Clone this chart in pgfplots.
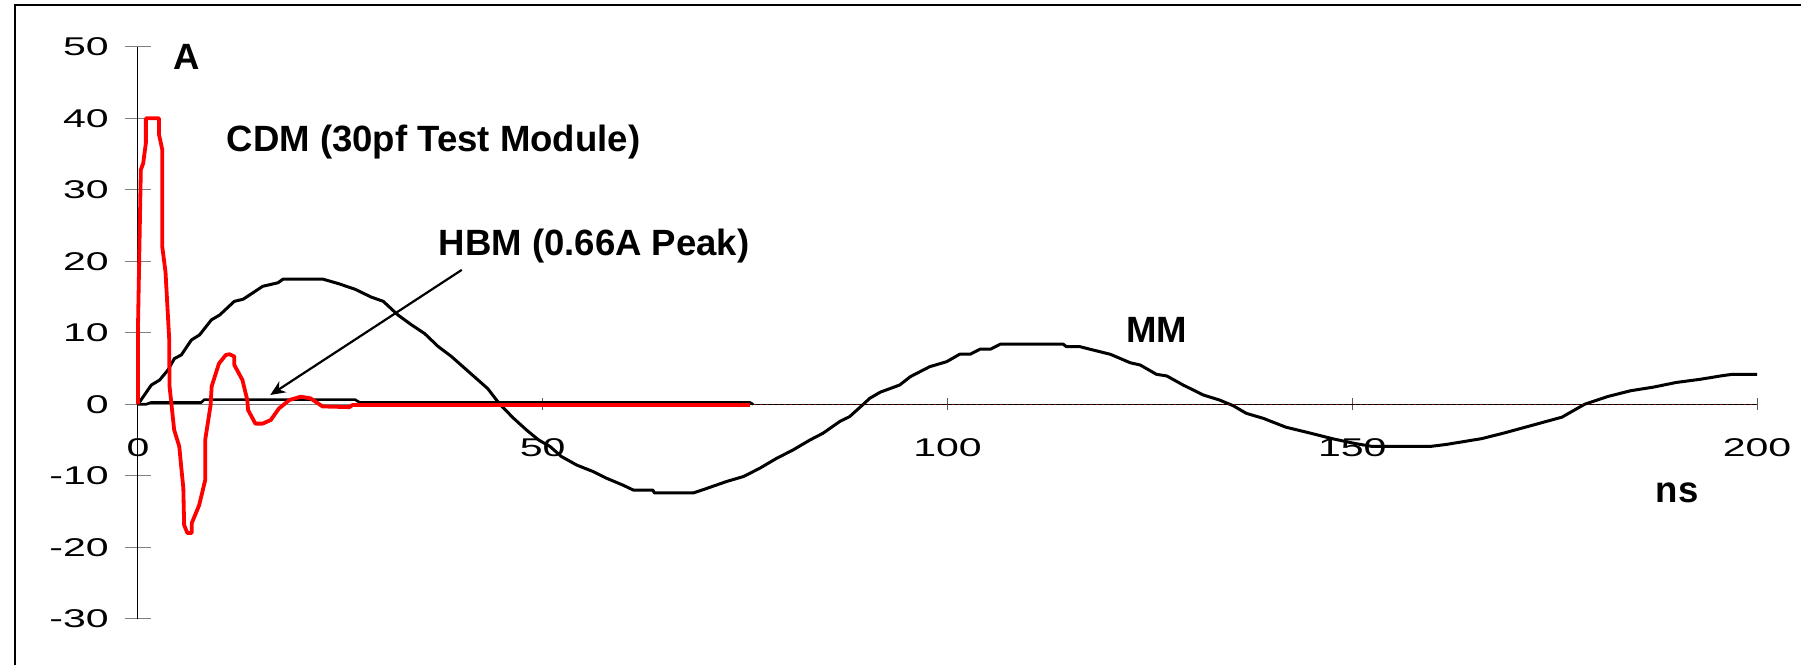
\documentclass[border=0pt]{standalone}
\usepackage{fontspec}
\usepackage{pgfplots}
\usepackage{pgfplotstable}
\pgfplotsset{compat=1.18}
\usetikzlibrary{arrows.meta}
\setmainfont{Liberation Sans}
\newfontfamily\tickfont[FakeStretch=1.6]{Liberation Sans}
\newcommand\lab{\fontsize{10.4}{12}\selectfont\bfseries}

\pgfplotstableread{
x y
0 0
1.65 2.7
2.68 3.4
3.7 4.8
4.5 6.4
5.35 6.9
6.6 9.0
7.6 9.7
9.06 11.8
10.1 12.5
11.9 14.4
13.0 14.7
15.4 16.5
17.3 17.0
17.9 17.5
22.85 17.5
24.7 16.9
26.8 16.1
28.8 15.0
30.3 14.4
32.1 12.5
33.8 11.1
35.4 9.9
37.1 8.06
38.7 6.7
40.8 4.6
42.0 3.4
43.2 2.2
44.7 0
46.4 -1.96
48.0 -3.6
49.5 -5.0
50.9 -5.9
52.3 -7.3
54.2 -8.5
56.2 -9.4
57.9 -10.35
59.9 -11.3
61.2 -12.0
63.6 -12.0
63.8 -12.4
68.6 -12.4
70.3 -11.75
72.7 -10.8
74.8 -10.1
76.8 -8.95
78.9 -7.55
80.9 -6.4
83.0 -5.0
84.6 -4.06
86.7 -2.4
87.9 -1.73
89.6 0
90.4 0.84
91.7 1.7
94.1 2.7
95.4 3.86
97.8 5.26
99.9 5.96
101.5 7.0
102.8 7.0
104.0 7.7
105.3 7.7
106.5 8.4
114.3 8.4
114.7 8.05
116.4 8.05
117.6 7.7
120.1 7.0
122.6 5.8
123.8 5.5
125.8 4.2
127.1 3.96
129.1 2.7
131.6 1.3
133.6 0.6
135.3 -0.2
136.9 -1.26
139.0 -1.96
141.8 -3.2
144.7 -4.0
147.5 -4.8
150.4 -5.5
152.5 -5.9
159.6 -5.9
161.7 -5.6
166.0 -4.8
168.8 -4.0
173.0 -2.7
175.9 -1.8
178.7 0
181.6 1.1
184.4 1.9
187.2 2.4
190.0 3.05
193.0 3.5
195.7 4.0
197.0 4.2
200.0 4.2
}\mmdata

\pgfplotstableread{
x y
0 0
0.0 10.9
0.35 32.8
0.64 33.7
0.97 36.5
0.97 40
2.6 40
2.6 37.7
3.0 35.6
3.0 22
3.4 18.5
3.85 9.2
3.9 2.5
4.47 -3.6
5.1 -5.9
5.3 -8.3
5.6 -11.7
5.7 -16.9
6.1 -18
6.65 -18
6.65 -16.6
7.56 -14.1
8.3 -10.6
8.3 -5
8.97 -0.1
9.1 2.5
10.0 5.7
10.85 6.9
11.3 7.0
11.9 6.7
11.9 5.5
12.9 3.4
13.5 0.6
13.6 -0.8
14.5 -2.7
15.4 -2.7
16.4 -2.2
17.4 -0.6
18.7 0.6
20.1 1.06
21.3 0.84
22.8 -0.3
26.1 -0.4
26.5 -0.1
75.6 -0.1
}\cdmdata

\pgfplotstableread{
x y
0 0
1.0 0
1.6 0.25
7.8 0.25
8.2 0.66
26.8 0.66
27.4 0.25
75.6 0.25
76.0 0
}\hbmdata

\begin{document}
\begin{tikzpicture}
\useasboundingbox (0,0) rectangle (180.1mm,-66.5mm);
\draw[line width=0.2mm] (1.5mm,-70mm) -- (1.5mm,-0.53mm) -- (190mm,-0.53mm);
\begin{axis}[
  scale only axis, width=161.9mm, height=57.2mm,
  at={(13.8mm,-61.88mm)}, anchor=south west,
  xmin=0, xmax=200, ymin=-30, ymax=50,
  axis x line=middle, axis y line=left,
  every inner x axis line/.append style={-},
  every outer y axis line/.append style={-},
  x axis line style={-, draw=gray, line width=0.1mm},
  y axis line style={-, draw=black, line width=0.1mm},
  hide obscured x ticks=false, hide obscured y ticks=false,
  xtick={0,50,100,150,200}, ytick={-30,-20,-10,0,10,20,30,40,50},
  yticklabels={{-30},{-20},{-10},0,10,20,30,40,50},
  xticklabels={0,50,100,150,200},
  xtick align=center, ytick align=center,
  xtick style={draw=gray!70!black, line width=0.1mm, /pgfplots/major tick length=1.2mm},
  ytick style={draw=gray, line width=0.1mm, /pgfplots/major tick length=2.6mm},
  tick label style={font=\tickfont\fontsize{7.3}{8}\selectfont, inner sep=0pt},
  xticklabel style={anchor=north, yshift=-2.6mm},
  yticklabel style={anchor=east, xshift=-2.1mm},
  clip=false,
]
\addplot[black, line width=0.3mm, line join=round] table {\mmdata};
\addplot[black, line width=0.26mm] table {\hbmdata};
\addplot[red, line width=0.38mm, line join=round] table {\cdmdata};
\addplot[red!45!black, line width=0.15mm] coordinates {(75.6,0) (200,0)};
\addplot[black, line width=0.1mm, dash pattern=on 0.4mm off 0.2mm] coordinates {(75.6,0) (200,0)};
\draw[line width=0.22mm, -{Stealth[length=1.5mm, width=1.3mm]}] (axis cs:40.0,18.8) -- (axis cs:16.34,1.3);
\node[anchor=base west, inner sep=0pt, font=\lab] at (axis cs:4.29,46.76) {A};
\node[anchor=base west, inner sep=0pt, font=\lab] at (axis cs:10.87,35.29) {CDM (30pf Test Module)};
\node[anchor=base west, inner sep=0pt, font=\lab] at (axis cs:37.06,20.88) {HBM (0.66A Peak)};
\node[anchor=base west, inner sep=0pt, font=\lab] at (axis cs:122.01,8.62) {MM};
\node[anchor=base west, inner sep=0pt, font=\lab] at (axis cs:187.4,-13.76) {ns};
\end{axis}
\end{tikzpicture}
\end{document}
